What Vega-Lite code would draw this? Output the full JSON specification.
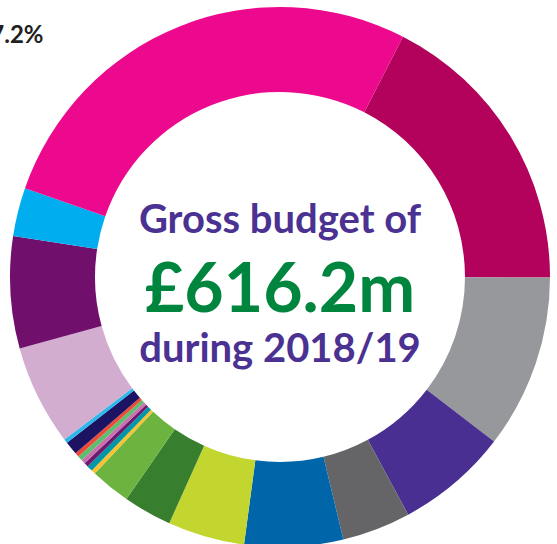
{
  "$schema": "https://vega.github.io/schema/vega-lite/v6.json",
  "width": 554,
  "height": 534,
  "autosize": {"type": "none"},
  "padding": {"left": 3, "top": 10, "right": 0, "bottom": 0},
  "background": "white",
  "view": {"stroke": null},
  "config": {"font": "Lato"},
  "layer": [
    {
      "data": {
        "values": [
          {"k": 1, "seg": "s01", "pct": 17.5},
          {"k": 2, "seg": "s02", "pct": 10.4},
          {"k": 3, "seg": "s03", "pct": 6.7},
          {"k": 4, "seg": "s04", "pct": 4.1},
          {"k": 5, "seg": "s05", "pct": 5.9},
          {"k": 6, "seg": "s06", "pct": 4.6},
          {"k": 7, "seg": "s07", "pct": 2.9},
          {"k": 8, "seg": "s08", "pct": 2.4},
          {"k": 9, "seg": "s09", "pct": 0.25},
          {"k": 10, "seg": "s10", "pct": 0.35},
          {"k": 11, "seg": "s11", "pct": 0.25},
          {"k": 12, "seg": "s12", "pct": 0.25},
          {"k": 13, "seg": "s13", "pct": 0.3},
          {"k": 14, "seg": "s14", "pct": 0.25},
          {"k": 15, "seg": "s15", "pct": 0.8},
          {"k": 16, "seg": "s16", "pct": 0.25},
          {"k": 17, "seg": "s17", "pct": 6.0},
          {"k": 18, "seg": "s18", "pct": 6.7},
          {"k": 19, "seg": "s19", "pct": 2.9},
          {"k": 20, "seg": "s20", "pct": 27.2}
        ]
      },
      "mark": {"type": "arc", "innerRadius": 185, "outerRadius": 270},
      "encoding": {
        "theta": {
          "field": "pct",
          "type": "quantitative",
          "stack": true,
          "scale": {"range": [0.47298, 6.75617]}
        },
        "order": {"field": "k", "type": "quantitative"},
        "color": {
          "field": "seg",
          "type": "nominal",
          "legend": null,
          "scale": {
            "domain": ["s01","s02","s03","s04","s05","s06","s07","s08","s09","s10","s11","s12","s13","s14","s15","s16","s17","s18","s19","s20"],
            "range": ["#B2025B","#97989B","#482F91","#656567","#0066A9","#C2D62F","#387E2F","#6DB33F","#F9C232","#0097A7","#6B1A6F","#CC6FB0","#5EBD6E","#EE4A3A","#1C1462","#2BB8EB","#D2ADD0","#70106C","#00AEEF","#EC098D"]
          }
        }
      }
    },
    {
      "data": {"values": [{"label": "27.2%", "angle": 314.66}]},
      "mark": {"type": "text", "radius": 332.5, "align": "right", "baseline": "alphabetic", "font": "Lato", "fontWeight": "bold", "fontSize": 24, "color": "#231F20"},
      "encoding": {
        "theta": {"field": "angle", "type": "quantitative", "stack": null, "scale": {"domain": [0, 360], "range": [0, 6.283185307]}},
        "text": {"field": "label"}
      }
    },
    {
      "data": {"values": [{"line": "Gross budget of"}]},
      "mark": {"type": "text", "dy": -44.3, "align": "center", "baseline": "alphabetic", "font": "Lato", "fontWeight": "bold", "fontSize": 40, "color": "#4A3192"},
      "encoding": {"text": {"field": "line"}}
    },
    {
      "data": {"values": [{"line": "£616.2m"}]},
      "mark": {"type": "text", "dy": 34.7, "align": "center", "baseline": "alphabetic", "font": "Lato", "fontWeight": "bold", "fontSize": 68, "color": "#00853F"},
      "encoding": {"text": {"field": "line"}}
    },
    {
      "data": {"values": [{"line": "during 2018/19"}]},
      "mark": {"type": "text", "dy": 85, "align": "center", "baseline": "alphabetic", "font": "Lato", "fontWeight": "bold", "fontSize": 40, "color": "#4A3192"},
      "encoding": {"text": {"field": "line"}}
    }
  ],
  "resolve": {"scale": {"theta": "independent"}}
}
